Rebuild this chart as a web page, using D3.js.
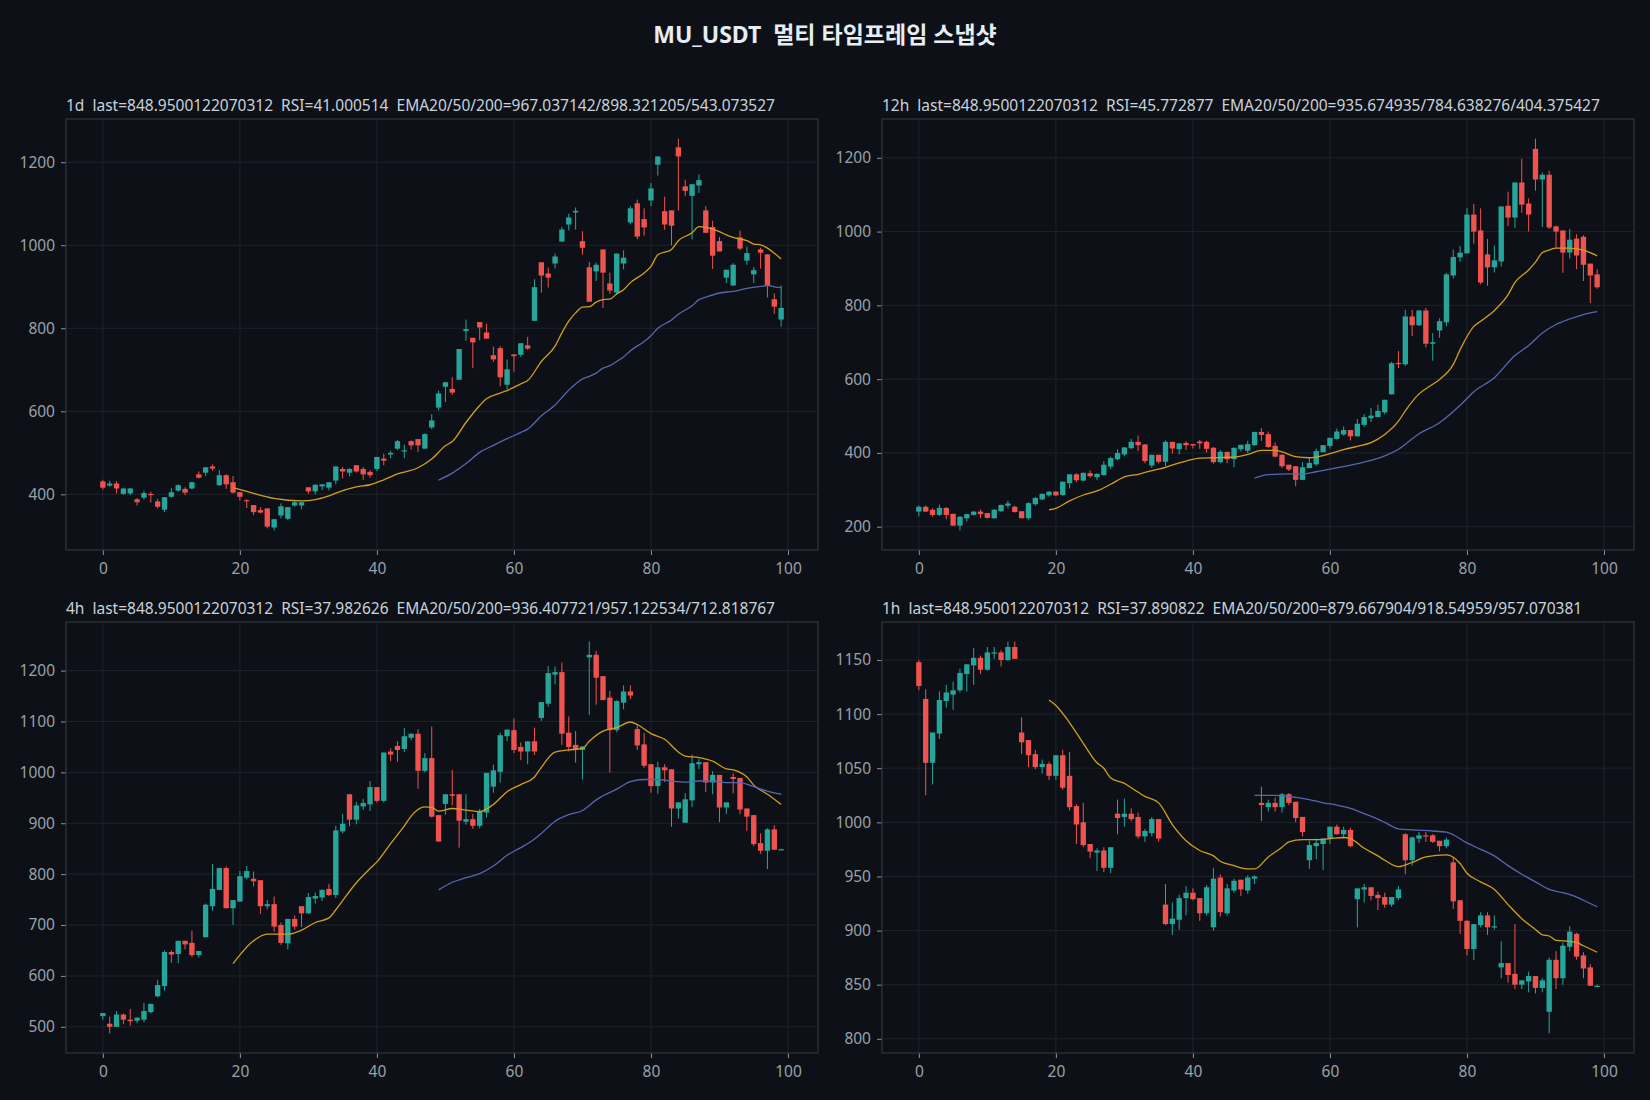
<!DOCTYPE html>
<html>
<head>
<meta charset="utf-8">
<script src="https://cdn.jsdelivr.net/npm/d3@7"></script>
<style>
  body { margin: 0; background: #0d1117; }
  text { font-family: "Noto Sans", "Noto Sans CJK KR", sans-serif; white-space: pre; }
</style>
</head>
<body>
<div class="chart"></div>
<script>
const width = 1650;
const height = 1100;

const chartTitle = 'MU_USDT  멀티 타임프레임 스냅샷';
const frames = ['1d', '12h', '4h', '1h'];
const subTitles = [
  '1d  last=848.9500122070312  RSI=41.000514  EMA20/50/200=967.037142/898.321205/543.073527',
  '12h  last=848.9500122070312  RSI=45.772877  EMA20/50/200=935.674935/784.638276/404.375427',
  '4h  last=848.9500122070312  RSI=37.982626  EMA20/50/200=936.407721/957.122534/712.818767',
  '1h  last=848.9500122070312  RSI=37.890822  EMA20/50/200=879.667904/918.54959/957.070381'
];
const xTicks = [0, 20, 40, 60, 80, 100];
const yTicks1d = [400, 600, 800, 1000, 1200];
const yTicks12h = [200, 400, 600, 800, 1000, 1200];
const yTicks4h = [500, 600, 700, 800, 900, 1000, 1100, 1200];
const yTicks1h = [800, 850, 900, 950, 1000, 1050, 1100, 1150];

// candles: [open, high, low, close]
const candles1d = [
  [431,435,411,416],[421,433,418,426],[426,432,402,414],[401,416,399,414],[402,415,398,414],
  [388,391,373,381],[392,409,387,403],[401,406,380,398],[383,389,366,370],[363,393,357,393],
  [394,415,392,405],[409,424,406,422],[413,417,398,404],[414,430,412,429],[448,455,438,440],
  [452,465,444,465],[467,472,457,462],[422,458,420,446],[446,448,413,424],[429,444,402,404],
  [405,405,385,394],[386,388,367,384],[374,374,350,357],[362,369,354,356],[366,366,318,322],
  [320,340,313,340],[349,378,342,371],[341,369,338,369],[373,386,370,381],[373,381,364,381],
  [417,417,401,407],[407,424,400,423],[419,424,410,424],[416,429,409,429],[433,467,424,467],
  [461,466,438,455],[452,463,443,461],[470,470,452,455],[461,466,435,448],[454,458,440,446],
  [461,490,456,490],[486,498,470,481],[496,505,487,500],[510,531,507,528],[503,520,487,506],
  [528,530,508,518],[533,533,502,518],[510,547,510,545],[561,593,557,578],[609,650,602,643],
  [659,670,622,670],[654,682,640,645],[676,750,676,750],[793,821,770,798],[777,777,704,766],
  [815,815,771,802],[790,811,775,775],[735,756,719,725],[752,757,660,682],[664,725,653,701],
  [737,737,695,733],[736,764,731,764],[759,779,748,751],[818,918,818,899],[959,959,886,927],
  [932,946,898,922],[956,980,944,973],[1009,1044,1009,1038],[1050,1076,1036,1067],[1079,1091,1038,1083],
  [1010,1034,977,994],[947,960,864,864],[937,958,914,953],[990,990,849,934],[908,934,883,891],
  [886,980,880,980],[956,988,942,970],[1055,1094,1050,1089],[1101,1110,1015,1021],[1063,1089,1023,1043],
  [1108,1150,1094,1137],[1194,1214,1168,1214],[1082,1117,1037,1050],[1084,1084,1000,1047],[1236,1257,1084,1214],
  [1142,1158,1118,1131],[1119,1147,1014,1147],[1144,1171,1126,1157],[1084,1094,1030,1030],[1044,1059,943,975],
  [1010,1020,985,985],[922,941,909,941],[903,957,903,953],[1019,1035,988,992],[963,997,953,981],
  [930,947,909,940],[990,994,944,982],[978,978,874,903],[870,884,835,852],[821,903,804,849]
];
const candles12h = [
  [241,258,228,254],[254,258,240,241],[246,250,227,232],[232,260,229,251],[251,253,220,232],
  [235,235,202,203],[203,229,190,227],[223,234,214,234],[232,242,230,241],[241,247,223,234],
  [237,237,222,224],[223,248,222,246],[242,260,240,259],[257,270,250,263],[254,257,238,240],
  [242,242,223,223],[223,266,219,264],[261,280,257,278],[274,291,272,289],[285,296,281,295],
  [295,296,283,285],[286,322,283,322],[318,342,304,342],[342,345,321,326],[325,347,323,346],
  [345,352,333,337],[334,345,326,343],[340,378,338,368],[363,390,356,386],[383,410,380,400],
  [396,415,391,415],[413,438,410,430],[430,447,405,421],[423,423,372,378],[366,395,359,395],
  [395,395,371,376],[376,434,364,430],[430,430,398,412],[410,426,396,426],[427,432,408,421],
  [424,424,412,420],[431,435,411,426],[430,433,401,411],[414,416,371,375],[375,408,372,403],
  [403,403,372,383],[383,414,361,414],[410,422,404,422],[406,433,400,424],[421,457,419,457],
  [457,467,433,449],[451,458,414,416],[419,428,388,390],[395,396,359,364],[368,368,351,355],
  [364,364,310,327],[327,375,327,361],[359,387,358,373],[369,412,365,405],[402,421,402,421],
  [419,441,412,441],[438,466,436,458],[450,472,447,462],[462,462,434,445],[445,492,445,479],
  [476,505,471,497],[494,522,484,501],[497,531,497,514],[510,544,505,544],[559,647,558,643],
  [644,676,630,642],[640,788,636,770],[770,788,717,746],[746,788,744,786],[786,793,686,696],
  [696,725,650,700],[732,765,712,757],[754,888,743,884],[881,951,873,931],[930,961,918,943],
  [941,1064,941,1046],[1046,1075,967,1000],[1003,1063,857,862],[938,980,853,903],[903,962,889,922],
  [919,1068,905,1068],[1070,1108,1015,1038],[1038,1133,1010,1133],[1133,1197,1051,1073],[1076,1090,1000,1046],
  [1224,1252,1111,1141],[1141,1160,1012,1154],[1154,1165,1007,1011],[1014,1016,956,1000],[1003,1003,888,943],
  [943,1007,927,978],[981,993,898,935],[986,990,866,910],[913,913,806,881],[884,898,845,849]
];
const candles4h = [
  [521,527,514,527],[506,520,487,500],[500,531,500,524],[524,526,505,514],[514,535,502,511],
  [512,518,507,518],[514,547,509,531],[529,545,526,545],[560,592,558,582],[580,650,571,647],
  [647,650,626,642],[643,669,625,669],[669,669,652,662],[665,689,637,641],[641,649,636,649],
  [676,742,676,740],[737,820,728,771],[769,812,769,812],[812,815,733,733],[733,749,700,749],
  [746,806,746,796],[793,816,790,806],[791,805,776,786],[788,788,722,737],[737,749,731,741],
  [741,756,687,697],[700,705,661,665],[664,712,652,712],[712,719,691,697],[737,737,696,723],
  [723,763,722,755],[752,764,742,757],[754,770,747,769],[771,781,757,759],[759,895,753,886],
  [884,918,880,899],[957,957,894,907],[907,942,898,935],[933,948,926,940],[937,983,924,971],
  [971,971,941,944],[944,1039,941,1039],[1041,1047,1022,1035],[1052,1061,1021,1044],[1046,1087,1040,1071],
  [1068,1076,1063,1076],[1076,1085,968,1003],[1003,1038,1000,1028],[1028,1090,911,913],[916,916,864,864],
  [938,957,917,957],[957,1005,935,954],[957,957,852,905],[903,957,897,908],[908,918,889,895],
  [895,928,890,923],[921,999,911,999],[972,1015,960,1004],[1001,1078,980,1073],[1071,1084,1061,1084],
  [1083,1106,1038,1044],[1050,1059,1024,1041],[1041,1061,1016,1061],[1061,1088,1034,1041],[1107,1138,1101,1138],
  [1135,1209,1129,1195],[1192,1208,1173,1197],[1197,1216,1054,1076],[1078,1110,1041,1050],[1054,1081,1019,1044],
  [1044,1051,986,1051],[1226,1257,1113,1231],[1231,1239,1133,1186],[1189,1189,1142,1142],[1147,1160,1000,1083],
  [1083,1142,1079,1140],[1137,1171,1124,1159],[1159,1171,1144,1151],[1085,1094,1044,1053],[1055,1077,1009,1013],
  [1016,1016,960,973],[973,1021,958,1010],[1010,1016,981,1004],[1006,1006,893,929],[929,941,909,941],
  [901,959,901,947],[945,1035,932,1018],[1016,1026,1006,1020],[1020,1020,961,980],[980,1002,957,995],
  [995,995,902,931],[931,941,918,941],[991,998,959,987],[989,989,918,927],[929,929,885,913],
  [916,916,855,859],[861,880,840,846],[846,890,810,888],[888,896,848,848],[847,850,847,849]
];
const candles1h = [
  [1148,1150,1122,1126],[1114,1123,1025,1055],[1055,1083,1035,1083],[1082,1121,1077,1113],[1112,1127,1106,1120],
  [1118,1130,1104,1122],[1122,1142,1120,1138],[1137,1146,1121,1146],[1145,1161,1127,1152],[1152,1154,1137,1141],
  [1141,1162,1140,1157],[1156,1162,1151,1157],[1157,1159,1144,1150],[1150,1167,1149,1162],[1162,1167,1151,1151],
  [1083,1097,1063,1074],[1076,1076,1051,1062],[1063,1067,1049,1051],[1051,1058,1045,1054],[1054,1056,1039,1043],
  [1043,1062,1039,1062],[1062,1067,1030,1032],[1043,1065,1011,1014],[1015,1017,980,998],[1000,1018,977,979],
  [980,980,967,973],[972,976,955,974],[974,977,954,958],[958,977,953,977],[1008,1021,989,1004],
  [1005,1022,996,1008],[1008,1013,1001,1003],[1005,1009,985,987],[987,994,982,992],[990,1005,987,1003],
  [1003,1003,982,985],[924,943,905,906],[906,926,896,911],[910,933,901,930],[930,941,914,935],
  [935,939,928,929],[930,930,909,916],[916,942,914,940],[903,958,900,948],[949,952,913,917],
  [916,943,914,939],[937,948,935,946],[947,947,932,938],[937,951,934,949],[948,951,943,950],
  [1018,1033,1001,1016],[1014,1021,1010,1018],[1018,1023,1010,1014],[1014,1027,1009,1026],[1026,1027,1016,1018],
  [1019,1019,1000,1004],[1005,1005,987,991],[965,983,957,979],[978,985,966,981],[980,985,956,985],
  [985,996,980,996],[996,998,989,989],[989,996,985,993],[993,995,977,978],[929,939,903,939],
  [938,943,926,940],[940,940,928,932],[933,936,919,930],[931,935,921,924],[924,931,922,931],
  [930,941,928,938],[989,990,952,965],[965,987,960,986],[985,991,981,988],[988,991,982,987],
  [988,989,981,982],[983,983,973,978],[978,986,976,984],[963,968,920,927],[928,928,897,909],
  [909,910,877,883],[883,906,873,906],[905,917,903,914],[914,917,896,903],[903,914,901,904],
  [866,890,856,870],[870,870,852,859],[860,906,846,850],[850,854,846,854],[853,862,843,858],
  [858,858,842,847],[847,856,843,854],[825,875,805,873],[873,881,846,856],[856,889,850,886],
  [885,904,881,899],[897,898,873,876],[877,880,856,865],[866,869,849,849],[848,850,848,849]
];

// EMA lines: [index, value]
const ema20_1d = [[19,416],[21,407],[25,390],[29,384],[33,396],[34,403],[37,418],[39,423],[41,435],[43,449],[46,464],[48,485],[50,517],[51,527],[53,573],[55,614],[56,630],[58,644],[59,650],[61,666],[62,674],[64,720],[66,757],[67,789],[68,817],[69,837],[70,851],[71,852],[72,863],[73,869],[74,870],[75,883],[76,893],[77,910],[79,933],[80,949],[81,977],[83,990],[84,1011],[86,1030],[87,1045],[88,1043],[90,1033],[91,1025],[92,1019],[94,1011],[95,1003],[96,1001],[97,993],[98,981],[99,967]];
const ema50_1d = [[49,434],[51,451],[53,474],[55,501],[57,518],[59,534],[61,549],[62,557],[64,589],[66,615],[67,633],[68,651],[69,666],[70,678],[71,684],[72,692],[73,704],[74,710],[75,720],[76,731],[77,746],[79,768],[80,782],[81,800],[83,820],[84,834],[86,854],[87,869],[88,875],[90,885],[92,889],[94,896],[96,901],[97,903],[98,900],[99,898]];
const ema20_12h = [[19,246],[20,250],[22,270],[24,286],[26,297],[28,315],[30,335],[32,342],[34,352],[35,356],[37,367],[39,378],[41,386],[43,387],[46,389],[48,396],[50,407],[52,407],[53,403],[55,390],[57,387],[58,389],[60,398],[62,409],[64,418],[66,428],[68,450],[70,486],[71,514],[73,560],[75,586],[76,599],[78,640],[79,680],[81,743],[82,757],[84,786],[86,829],[87,862],[89,896],[90,917],[91,943],[92,950],[93,955],[95,955],[96,953],[97,950],[98,943],[99,934]];
const ema50_12h = [[49,332],[51,341],[54,343],[56,343],[58,349],[60,356],[63,367],[66,380],[68,392],[70,410],[73,452],[76,482],[79,529],[81,566],[84,604],[87,664],[89,691],[91,725],[93,748],[95,763],[97,775],[99,783]];
const ema20_4h = [[19,624],[22,669],[24,682],[27,682],[29,690],[31,705],[33,714],[34,730],[35,748],[37,783],[39,811],[40,824],[42,860],[44,895],[45,914],[47,932],[48,931],[49,924],[51,929],[53,926],[55,923],[57,937],[59,962],[61,976],[63,991],[64,1010],[66,1040],[68,1044],[70,1047],[71,1061],[73,1081],[75,1088],[77,1099],[78,1094],[80,1076],[82,1065],[84,1040],[85,1032],[87,1029],[89,1022],[91,1007],[92,1005],[94,991],[95,975],[97,957],[99,937]];
const ema50_4h = [[49,769],[51,784],[53,793],[55,801],[57,816],[59,837],[61,852],[63,869],[64,880],[66,904],[68,917],[70,925],[71,935],[72,946],[73,954],[75,967],[77,982],[79,986],[81,986],[83,983],[85,981],[87,983],[89,983],[91,980],[93,980],[95,972],[97,963],[99,957]];
const ema20_1h = [[19,1113],[20,1108],[22,1092],[24,1073],[26,1055],[27,1050],[28,1041],[30,1036],[31,1032],[33,1024],[35,1018],[37,998],[39,983],[41,974],[43,969],[44,964],[46,960],[48,957],[49,957],[51,968],[53,977],[54,982],[56,984],[58,984],[60,985],[62,986],[63,985],[65,976],[67,969],[68,965],[70,959],[72,963],[74,968],[77,970],[79,962],[80,953],[82,945],[84,938],[86,924],[88,911],[90,901],[91,896],[92,895],[93,891],[95,890],[96,889],[97,886],[99,880]];
const ema50_1h = [[49,1025],[52,1025],[55,1023],[57,1021],[59,1018],[61,1016],[63,1013],[65,1008],[67,1003],[68,1000],[70,994],[72,993],[75,992],[77,991],[80,981],[82,975],[84,969],[86,960],[88,952],[90,945],[92,938],[94,935],[96,931],[97,928],[99,922]];

const upColor = '#26a69a';
const downColor = '#ef5350';
const ema20Color = '#d29e1c';
const ema50Color = '#5766b0';

const svg = d3.select('.chart').append('svg')
    .attr('width', width)
    .attr('height', height)
    .attr('viewBox', `0 0 ${width} ${height}`);

svg.append('rect').attr('width', width).attr('height', height).attr('fill', '#0d1117');

svg.append('text')
    .attr('x', 825).attr('y', 43)
    .attr('text-anchor', 'middle')
    .attr('fill', '#e6edf3')
    .attr('font-size', 23)
    .attr('font-weight', 'bold')
    .attr('font-family', '"Noto Sans CJK KR", "Noto Sans", sans-serif')
    .text(chartTitle);

// panel boxes in pixels
const boxes = [
  {x: 66, y: 119, w: 752, h: 431},
  {x: 882, y: 119, w: 752, h: 431},
  {x: 66, y: 622, w: 752, h: 431},
  {x: 882, y: 622, w: 752, h: 431}
];
const allCandles = [candles1d, candles12h, candles4h, candles1h];
const allYTicks = [yTicks1d, yTicks12h, yTicks4h, yTicks1h];
const allEma20 = [ema20_1d, ema20_12h, ema20_4h, ema20_1h];
const allEma50 = [ema50_1d, ema50_12h, ema50_4h, ema50_1h];

frames.forEach((tf, p) => {
  const box = boxes[p];
  const data = allCandles[p];
  const bodyW = 0.78;

  const xScale = d3.scaleLinear()
      .domain([-bodyW / 2 - 0.05 * (data.length - 1 + bodyW), data.length - 1 + bodyW / 2 + 0.05 * (data.length - 1 + bodyW)])
      .range([0, box.w]);
  const lo = d3.min(data, d => d[2]);
  const hi = d3.max(data, d => d[1]);
  const pad = (hi - lo) * 0.05;
  const yScale = d3.scaleLinear().domain([lo - pad, hi + pad]).range([box.h, 0]);

  const g = svg.append('g').attr('transform', `translate(${box.x}, ${box.y})`);

  g.append('rect').attr('width', box.w).attr('height', box.h).attr('fill', '#0d1117');

  // grid
  g.append('g').selectAll('line').data(allYTicks[p]).enter().append('line')
      .attr('x1', 0).attr('x2', box.w)
      .attr('y1', d => yScale(d)).attr('y2', d => yScale(d))
      .attr('stroke', '#1e232b').attr('stroke-width', 1);
  g.append('g').selectAll('line').data(xTicks).enter().append('line')
      .attr('y1', 0).attr('y2', box.h)
      .attr('x1', d => xScale(d)).attr('x2', d => xScale(d))
      .attr('stroke', '#1e232b').attr('stroke-width', 1);

  // axes
  const yAxis = d3.axisLeft(yScale).tickValues(allYTicks[p]).tickSize(5).tickPadding(6).tickFormat(d3.format('d'));
  const xAxis = d3.axisBottom(xScale).tickValues(xTicks).tickSize(5).tickPadding(8).tickFormat(d3.format('d'));
  const ya = g.append('g').attr('class', 'y-axis').call(yAxis);
  const xa = g.append('g').attr('class', 'x-axis').attr('transform', `translate(0, ${box.h})`).call(xAxis);
  [ya, xa].forEach(a => {
    a.select('.domain').remove();
    a.selectAll('line').attr('stroke', '#8b949e');
    a.selectAll('text').attr('fill', '#9aa1a9').attr('font-size', 15.5);
  });

  // wicks
  g.append('g').selectAll('line').data(data).enter().append('line')
      .attr('x1', (d, i) => xScale(i)).attr('x2', (d, i) => xScale(i))
      .attr('y1', d => yScale(d[1])).attr('y2', d => yScale(d[2]))
      .attr('stroke', d => d[3] >= d[0] ? upColor : downColor)
      .attr('stroke-width', 1);

  // bodies
  g.append('g').selectAll('rect').data(data).enter().append('rect')
      .attr('x', (d, i) => xScale(i - bodyW / 2))
      .attr('width', xScale(bodyW) - xScale(0))
      .attr('y', d => yScale(Math.max(d[0], d[3])))
      .attr('height', d => Math.max(1.2, Math.abs(yScale(d[0]) - yScale(d[3]))))
      .attr('fill', d => d[3] >= d[0] ? upColor : downColor);

  // ema lines
  const line = d3.line().x(d => xScale(d[0])).y(d => yScale(d[1])).curve(d3.curveMonotoneX);
  g.append('path').datum(allEma20[p]).attr('d', line)
      .attr('fill', 'none').attr('stroke', ema20Color).attr('stroke-width', 1.3);
  g.append('path').datum(allEma50[p]).attr('d', line)
      .attr('fill', 'none').attr('stroke', ema50Color).attr('stroke-width', 1.3);

  // frame
  g.append('rect').attr('width', box.w).attr('height', box.h)
      .attr('fill', 'none').attr('stroke', '#30363d').attr('stroke-width', 1.2);

  svg.append('text')
      .attr('x', box.x).attr('y', box.y - 8)
      .attr('fill', '#c9d1d9')
      .attr('font-size', 15.5)
      .text(subTitles[p]);
});
</script>
</body>
</html>
